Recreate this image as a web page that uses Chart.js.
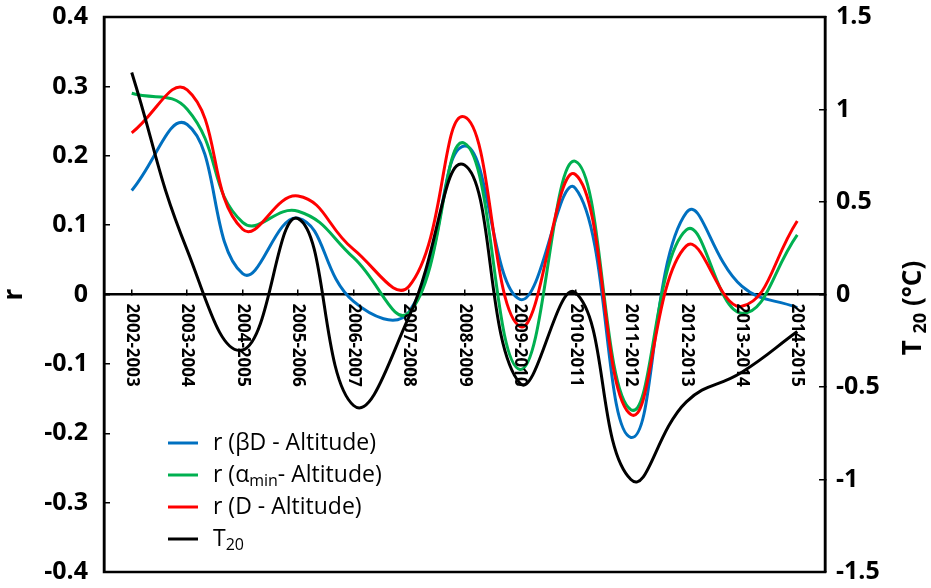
<!DOCTYPE html>
<html lang="en">
<head>
    <meta charset="UTF-8">
    <title>r vs T20</title>
    <script src="https://cdn.jsdelivr.net/npm/chart.js"></script>
    <style>
        body { margin: 0; background: #fff; }
    </style>
</head>
<body>
    <canvas id="myChart" width="931" height="588"></canvas>

    <script>
        // data
        const seasons = ['2002-2003', '2003-2004', '2004-2005', '2005-2006', '2006-2007', '2007-2008', '2008-2009',
                         '2009-2010', '2010-2011', '2011-2012', '2012-2013', '2013-2014', '2014-2015'];
        const rBetaD    = [0.150, 0.245, 0.030, 0.110, -0.010, -0.025, 0.214, -0.007, 0.153, -0.206, 0.118, 0.012, -0.019];
        const rAlphaMin = [0.290, 0.267, 0.104, 0.120, 0.053, -0.026, 0.218, -0.108, 0.192, -0.166, 0.093, -0.027, 0.086];
        const rD        = [0.233, 0.295, 0.094, 0.142, 0.065, 0.012, 0.256, -0.046, 0.173, -0.173, 0.070, -0.017, 0.106];
        const t20       = [1.20, 0.24, -0.30, 0.41, -0.60, -0.12, 0.70, -0.48, 0.01, -1.00, -0.58, -0.42, -0.20];

        const rTicks = [-0.4, -0.3, -0.2, -0.1, 0, 0.1, 0.2, 0.3, 0.4];
        const tTicks = [-1.5, -1, -0.5, 0, 0.5, 1, 1.5];

        const FONT = '"Open Sans", "DejaVu Sans", sans-serif';

        // text with optional subscript parts
        function drawParts(ctx, parts, x, y, size, weight) {
            let cx = x;
            parts.forEach(p => {
                const s = p.sub ? Math.round(size * 0.68) : size;
                ctx.font = weight + ' ' + s + 'px ' + FONT;
                ctx.fillText(p.t, cx, p.sub ? y + size * 0.28 : y);
                cx += ctx.measureText(p.t).width;
            });
            return cx - x;
        }
        function partsWidth(ctx, parts, size, weight) {
            let w = 0;
            parts.forEach(p => {
                const s = p.sub ? Math.round(size * 0.68) : size;
                ctx.font = weight + ' ' + s + 'px ' + FONT;
                w += ctx.measureText(p.t).width;
            });
            return w;
        }

        const legendItems = [
            { color: '#0070C0', parts: [{ t: 'r (βD - Altitude)' }] },
            { color: '#00B050', parts: [{ t: 'r (α' }, { t: 'min', sub: true }, { t: '- Altitude)' }] },
            { color: '#FF0000', parts: [{ t: 'r (D - Altitude)' }] },
            { color: '#000000', parts: [{ t: 'T' }, { t: '20', sub: true }] }
        ];

        const extras = {
            id: 'extras',
            afterDraw(chart) {
                const ctx = chart.ctx;
                const area = chart.chartArea;
                const xs = chart.scales.x;
                const ys = chart.scales.y;
                ctx.save();

                // frame
                ctx.strokeStyle = '#000';
                ctx.lineWidth = 2.5;
                ctx.strokeRect(area.left, area.top, area.right - area.left, area.bottom - area.top);

                // season labels, turned clockwise, hanging under the zero line
                ctx.fillStyle = '#000';
                ctx.font = 'bold 17px ' + FONT;
                ctx.textAlign = 'left';
                ctx.textBaseline = 'middle';
                const y0 = ys.getPixelForValue(0);
                seasons.forEach((s, i) => {
                    ctx.save();
                    ctx.translate(xs.getPixelForValue(i), y0 + 9);
                    ctx.rotate(Math.PI / 2);
                    ctx.fillText(s, 0, 0);
                    ctx.restore();
                });

                // legend
                ctx.textBaseline = 'middle';
                legendItems.forEach((it, i) => {
                    const ly = 443 + i * 32;
                    ctx.strokeStyle = it.color;
                    ctx.lineWidth = 3;
                    ctx.beginPath();
                    ctx.moveTo(168, ly);
                    ctx.lineTo(198, ly);
                    ctx.stroke();
                    ctx.fillStyle = '#000';
                    drawParts(ctx, it.parts, 213, ly, 23, 'normal');
                });

                // axis titles
                ctx.save();
                ctx.translate(15, (area.top + area.bottom) / 2);
                ctx.rotate(-Math.PI / 2);
                ctx.textAlign = 'center';
                ctx.font = 'bold 26px ' + FONT;
                ctx.fillText('r', 0, 0);
                ctx.restore();

                const tParts = [{ t: 'T ' }, { t: '20', sub: true }, { t: ' (°C)' }];
                ctx.save();
                ctx.translate(914, 308);
                ctx.rotate(-Math.PI / 2);
                ctx.textAlign = 'left';
                const tw = partsWidth(ctx, tParts, 26, 'bold');
                drawParts(ctx, tParts, -tw / 2, 0, 26, 'bold');
                ctx.restore();

                ctx.restore();
            }
        };

        const line = (label, data, color, axis, order) => ({
            label: label,
            data: data,
            borderColor: color,
            backgroundColor: color,
            borderWidth: 3,
            pointRadius: 0,
            tension: 0.45,
            fill: false,
            yAxisID: axis,
            order: order
        });

        const noPad = s => { s.paddingTop = 0; s.paddingBottom = 0; };

        const config = {
            type: 'line',
            data: {
                labels: seasons,
                datasets: [
                    line('r (βD - Altitude)', rBetaD, '#0070C0', 'y', 4),
                    line('r (αmin- Altitude)', rAlphaMin, '#00B050', 'y', 3),
                    line('r (D - Altitude)', rD, '#FF0000', 'y', 2),
                    line('T20', t20, '#000000', 'y1', 1)
                ]
            },
            options: {
                responsive: false,
                animation: false,
                layout: { padding: { top: 17, bottom: 16, left: 0, right: 0 } },
                plugins: {
                    legend: { display: false },
                    tooltip: { enabled: false }
                },
                scales: {
                    x: {
                        type: 'category',
                        position: { y: 0 },
                        offset: true,
                        ticks: { display: false },
                        grid: { drawOnChartArea: false, drawTicks: true, tickLength: -6, color: '#000', lineWidth: 1.5 },
                        border: { display: true, color: '#000', width: 2.5 }
                    },
                    y: {
                        position: 'left',
                        min: -0.4,
                        max: 0.4,
                        afterBuildTicks: s => { s.ticks = rTicks.map(v => ({ value: v })); },
                        afterFit: s => { s.width = 104; noPad(s); },
                        ticks: {
                            color: '#000',
                            padding: 22,
                            font: { family: FONT, size: 25, weight: 'bold' },
                            callback: v => String(+v.toFixed(1))
                        },
                        grid: { drawOnChartArea: false, drawTicks: true, tickLength: -6, color: '#000', lineWidth: 1.5 },
                        border: { display: true, color: '#000', width: 2.5 }
                    },
                    y1: {
                        position: 'right',
                        min: -1.5,
                        max: 1.5,
                        afterBuildTicks: s => { s.ticks = tTicks.map(v => ({ value: v })); },
                        afterFit: s => { s.width = 106; noPad(s); },
                        ticks: {
                            color: '#000',
                            padding: 17,
                            font: { family: FONT, size: 25, weight: 'bold' },
                            callback: v => String(+v.toFixed(1))
                        },
                        grid: { drawOnChartArea: false, drawTicks: true, tickLength: -6, color: '#000', lineWidth: 1.5 },
                        border: { display: true, color: '#000', width: 2.5 }
                    }
                }
            },
            plugins: [extras]
        };

        const ctx = document.getElementById('myChart').getContext('2d');
        const chart = new Chart(ctx, config);
    </script>
</body>
</html>
